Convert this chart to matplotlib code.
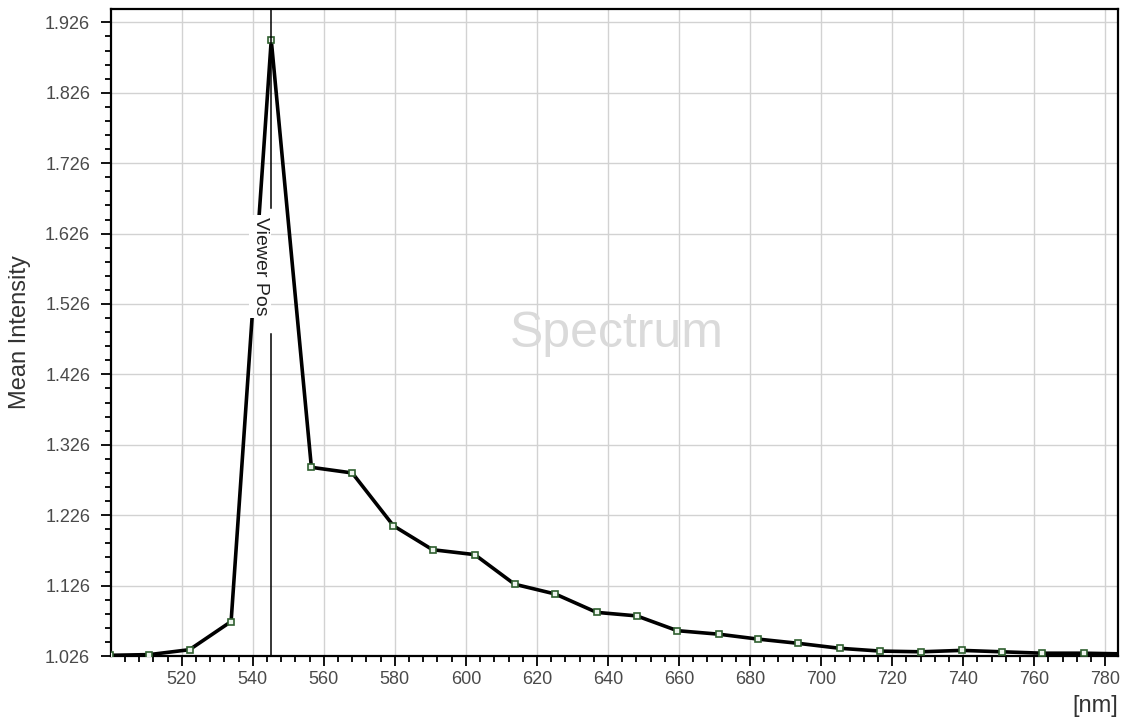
import matplotlib
matplotlib.use("Agg")
import matplotlib.pyplot as plt
import numpy as np
from matplotlib.ticker import MultipleLocator, FixedLocator

plt.rcParams['font.family'] = ['Liberation Sans', 'DejaVu Sans']

# Data
wavelength = [499.8, 510.9, 522.2, 533.9, 545.2, 556.5, 568.0, 579.6, 590.6, 602.5,
              613.7, 625.2, 636.8, 648.1, 659.5, 671.2, 682.3, 693.6, 705.2, 716.7,
              728.2, 739.6, 750.9, 762.2, 773.9, 785.3]
intensity = [1.027, 1.028, 1.035, 1.075, 1.901, 1.294, 1.286, 1.211, 1.177, 1.170,
             1.128, 1.114, 1.088, 1.083, 1.062, 1.057, 1.050, 1.044, 1.037, 1.033,
             1.032, 1.034, 1.032, 1.030, 1.030, 1.029]
viewer_pos = 545.2

y_ticks = [1.026, 1.126, 1.226, 1.326, 1.426, 1.526, 1.626, 1.726, 1.826, 1.926]
x_ticks = [520, 540, 560, 580, 600, 620, 640, 660, 680, 700, 720, 740, 760, 780]

fig = plt.figure(figsize=(11.24, 7.19), dpi=100)
ax = fig.add_axes([0.0988, 0.0876, 0.8959, 0.8999])

ax.plot(wavelength, intensity, color='black', lw=2.6, zorder=3,
        marker='s', ms=5, mfc='#eef4ee', mec='#2f5f2f', mew=1.2)

# viewer position cursor with label gap
ax.axvline(viewer_pos, ymin=0.0, ymax=0.497, color='black', lw=1.1, zorder=4)
ax.axvline(viewer_pos, ymin=0.693, ymax=1.0, color='black', lw=1.1, zorder=4)
ax.annotate('Viewer Pos', xy=(viewer_pos, 1.579), xytext=(-8, 0),
            textcoords='offset points', rotation=270, ha='center', va='center',
            fontsize=14, color='#222222', zorder=5,
            bbox=dict(facecolor='white', edgecolor='none', pad=1.5))

ax.text(0.502, 0.478, 'Spectrum', transform=ax.transAxes, ha='center',
        va='baseline', fontsize=36, color='#dadada', zorder=1)

ax.set_xlim(500.1, 783.6)
ax.set_ylim(1.026, 1.945)

ax.xaxis.set_major_locator(FixedLocator(x_ticks))
ax.xaxis.set_minor_locator(MultipleLocator(4))
ax.yaxis.set_major_locator(FixedLocator(y_ticks))
ax.yaxis.set_minor_locator(FixedLocator(np.arange(1.026, 1.945, 0.02)))
ax.set_yticklabels(['%.3f' % v for v in y_ticks])
ax.set_xticklabels([str(v) for v in x_ticks])

ax.grid(True, which='major', color='#d2d2d2', lw=1.0, zorder=0)
ax.set_axisbelow(True)
ax.tick_params(which='major', direction='out', length=7, width=1.3,
               labelsize=13, labelcolor='#4a4a4a', pad=4)
ax.tick_params(axis='y', which='major', pad=8)
ax.tick_params(which='minor', direction='out', length=4.5, width=1.3)
for s in ax.spines.values():
    s.set_linewidth(1.6)
    s.set_color('black')

ax.set_ylabel('Mean Intensity', fontsize=17, color='#333333', labelpad=10)
fig.text(0.974, 0.018, '[nm]', ha='center', va='center', fontsize=17,
         color='#333333')

fig.savefig('out.png', dpi=100)
